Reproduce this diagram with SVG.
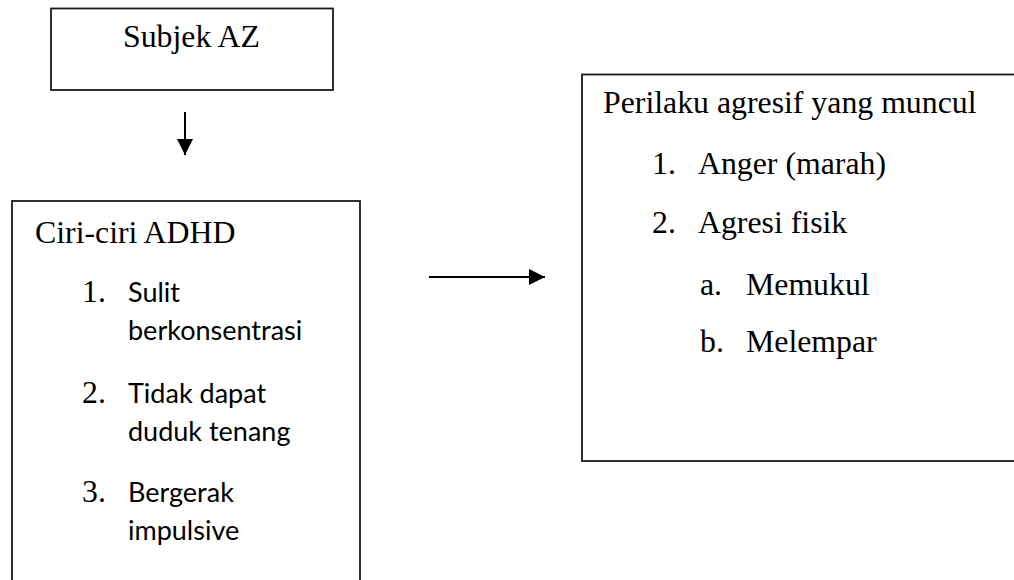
<svg xmlns="http://www.w3.org/2000/svg" width="1014" height="580" viewBox="0 0 1014 580">
<style>
.box{fill:#fff;stroke:#1a1a1a;stroke-width:1.8}
.serif{font-family:"Liberation Serif","Times New Roman",serif;font-size:31.8px;fill:#000}
.sans{font-family:Lato,"Noto Sans",sans-serif;font-size:27px;fill:#000}
.conn{stroke:#000;stroke-width:2;fill:none}
</style>
<defs>
<marker id="arrow" markerUnits="userSpaceOnUse" markerWidth="17" markerHeight="17" refX="16" refY="8.5" orient="auto">
<path d="M0,0.5 L16,8.5 L0,16.5 Z" fill="#000"/>
</marker>
</defs>
<rect width="1014" height="580" fill="#fff"/>
<g id="subjek">
<rect class="box" x="51" y="8.5" width="282" height="81.5"/>
<text class="serif" x="191.5" y="47" text-anchor="middle">Subjek AZ</text>
</g>
<g id="ciri">
<rect class="box" x="12" y="201" width="348" height="420"/>
<text class="serif" x="35" y="243">Ciri-ciri ADHD</text>
<text class="serif" x="82" y="302">1.</text>
<text class="sans" x="128" y="302">Sulit</text>
<text class="sans" x="128" y="340">berkonsentrasi</text>
<text class="serif" x="82" y="403">2.</text>
<text class="sans" x="128" y="403">Tidak dapat</text>
<text class="sans" x="128" y="441">duduk tenang</text>
<text class="serif" x="82" y="502">3.</text>
<text class="sans" x="128" y="502">Bergerak</text>
<text class="sans" x="128" y="540">impulsive</text>
</g>
<g id="perilaku">
<rect class="box" x="582" y="74.5" width="450" height="386.5"/>
<text class="serif" x="603" y="113">Perilaku agresif yang muncul</text>
<text class="serif" x="652" y="174">1.</text>
<text class="serif" x="698" y="174">Anger (marah)</text>
<text class="serif" x="652" y="233">2.</text>
<text class="serif" x="698" y="233">Agresi fisik</text>
<text class="serif" x="700" y="295">a.</text>
<text class="serif" x="746" y="295">Memukul</text>
<text class="serif" x="700" y="352">b.</text>
<text class="serif" x="746" y="352">Melempar</text>
</g>
<g id="connectors">
<line class="conn" x1="185" y1="112" x2="185" y2="155" marker-end="url(#arrow)"/>
<line class="conn" x1="429" y1="277" x2="545" y2="277" marker-end="url(#arrow)"/>
</g>
</svg>
